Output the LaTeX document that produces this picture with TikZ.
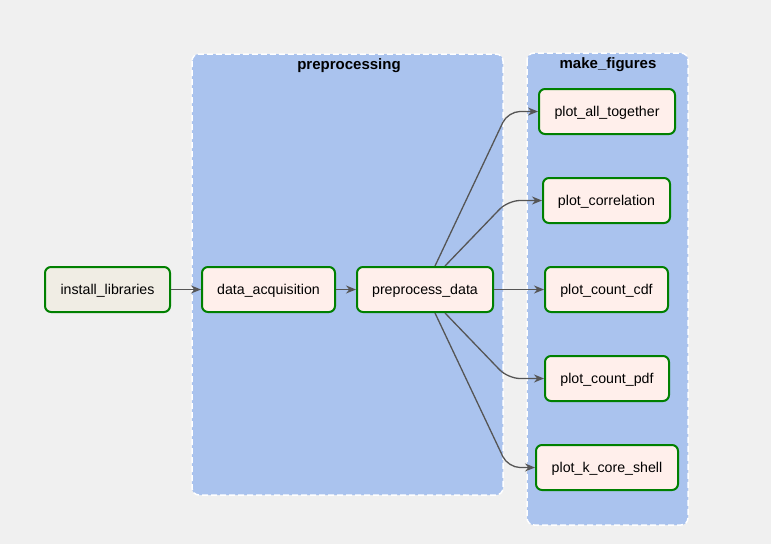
\documentclass[tikz,border=0pt]{standalone}
\usepackage{fontspec}
\setmainfont{Liberation Sans}
\usepackage{tikz}
\usetikzlibrary{arrows.meta}
\usetikzlibrary{calc}
\usetikzlibrary{positioning}

\definecolor{bgcol}{HTML}{F0F0F0}
\definecolor{groupcol}{HTML}{AAC3EE}
\definecolor{taskcol}{HTML}{FFEFEB}
\definecolor{setupcol}{HTML}{F0EDE4}
\definecolor{bordercol}{HTML}{008000}
\definecolor{edgecol}{HTML}{555555}

\tikzset{
  task/.style={draw=bordercol,line width=2pt,rounded corners=6pt,fill=taskcol,
    minimum height=45pt,inner xsep=0pt,text depth=1pt,font=\fontsize{14.2}{16}\selectfont},
  group/.style={draw=white,fill=groupcol,line width=1.5pt,dash pattern=on 6pt off 3pt,
    rounded corners=7pt},
  grouptitle/.style={font=\fontsize{15}{17}\selectfont\bfseries},
  edge/.style={draw=edgecol,line width=1.3pt,-{Stealth[length=10pt,width=8pt]}},
}

\begin{document}
\begin{tikzpicture}[x=1pt,y=-1pt]
      \useasboundingbox[fill=bgcol] (0,0) rectangle (771,544);
      % task groups
      \draw[group] (192,54) rectangle (503,495);
      \draw[group] (527,53) rectangle (688,525);
      \node[grouptitle] (pretitle) at (349,65.5) {preprocessing};
      \node[grouptitle] (figtitle) at (608,64.5) {make\_figures};
      % tasks
      \node[task,fill=setupcol,minimum width=125pt] (install) at (107.5,289.5) {install\_libraries};
      \node[task,minimum width=133pt] (acq) at (268.5,289.5) {data\_acquisition};
      \node[task,minimum width=136pt] (prep) at (425,289.5) {preprocess\_data};
      \node[task,minimum width=136pt] (together) at (607,111.5) {plot\_all\_together};
      \node[task,minimum width=127pt] (corr) at (606.5,200.5) {plot\_correlation};
      \node[task,minimum width=123pt] (cdf) at (606.5,289.5) {plot\_count\_cdf};
      \node[task,minimum width=124pt] (pdf) at (607,378.5) {plot\_count\_pdf};
      \node[task,minimum width=142pt] (kcore) at (607,467.5) {plot\_k\_core\_shell};
      \coordinate (bend) at (508,0);
      % edges
      \draw[edge] (install) -- (acq);
      \draw[edge] (acq) -- (prep);
      \draw[edge] (prep) -- (cdf);
      \draw[edge,rounded corners=12pt] ($(prep.north)+(10,0)$) -- (bend |- together.west) -- (together.west);
      \draw[edge,rounded corners=12pt] ($(prep.north)+(20,0)$) -- (bend |- corr.west) -- (corr.west);
      \draw[edge,rounded corners=12pt] ($(prep.south)+(20,0)$) -- (bend |- pdf.west) -- (pdf.west);
      \draw[edge,rounded corners=12pt] ($(prep.south)+(10,0)$) -- (bend |- kcore.west) -- (kcore.west);
    \end{tikzpicture}
\end{document}
